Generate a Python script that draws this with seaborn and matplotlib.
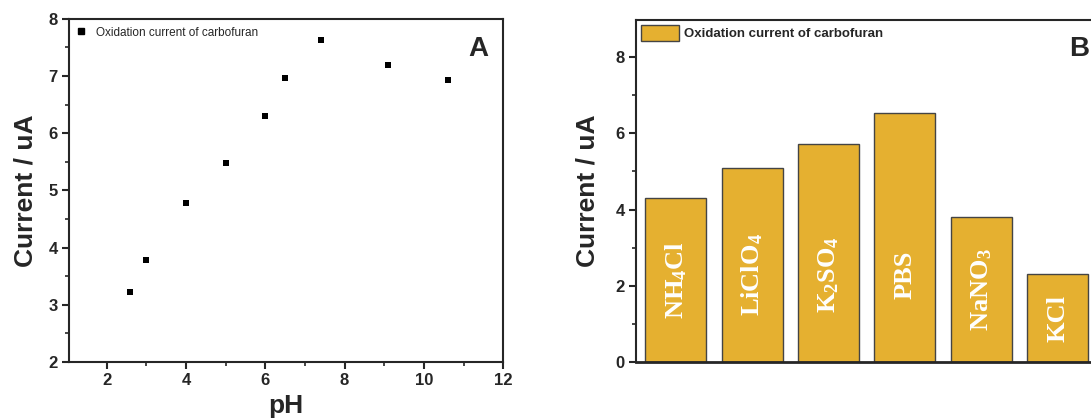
import matplotlib
matplotlib.use("Agg")
import matplotlib.pyplot as plt
from matplotlib.patches import Patch
from matplotlib.lines import Line2D
from matplotlib.ticker import MultipleLocator
import seaborn as sns
import pandas as pd

# pH study
ph_values = [2.6, 3.0, 4.0, 5.0, 6.0, 6.5, 7.4, 9.1, 10.6]
ph_currents = [3.22, 3.78, 4.78, 5.48, 6.31, 6.96, 7.63, 7.20, 6.94]

# supporting electrolyte study
electrolytes = ["NH4Cl", "LiClO4", "K2SO4", "PBS", "NaNO3", "KCl"]
electrolyte_labels = ["NH$_4$Cl", "LiClO$_4$", "K$_2$SO$_4$", "PBS", "NaNO$_3$", "KCl"]
electrolyte_currents = [4.30, 5.10, 5.72, 6.53, 3.80, 2.30]

series_name = "Oxidation current of carbofuran"
bar_color = "#E5B030"

sns.set_theme(style="ticks")
plt.rcParams["font.family"] = ["Liberation Sans", "DejaVu Sans"]
plt.rcParams["font.weight"] = "bold"
plt.rcParams["mathtext.fontset"] = "custom"
plt.rcParams["mathtext.rm"] = "Liberation Serif:bold"
plt.rcParams["mathtext.bf"] = "Liberation Serif:bold"
plt.rcParams["mathtext.default"] = "bf"
plt.rcParams["axes.linewidth"] = 1.5

fig = plt.figure(figsize=(10.91, 4.20), dpi=100)
ax_a = fig.add_axes([0.0632, 0.138, 0.398, 0.817])
ax_b = fig.add_axes([0.583, 0.138, 0.432, 0.814])

# Panel A: scatter of current versus pH
df_ph = pd.DataFrame({"pH": ph_values, "current": ph_currents})
sns.scatterplot(data=df_ph, x="pH", y="current", ax=ax_a, marker="s", s=24,
                color="black", edgecolor="black", linewidth=0)
ax_a.set_xlim(1.05, 12)
ax_a.set_ylim(2, 8)
ax_a.xaxis.set_major_locator(MultipleLocator(2))
ax_a.xaxis.set_minor_locator(MultipleLocator(1))
ax_a.yaxis.set_major_locator(MultipleLocator(1))
ax_a.yaxis.set_minor_locator(MultipleLocator(0.5))
ax_a.tick_params(which="major", direction="out", length=5, width=1.5,
                 labelsize=12, pad=3)
ax_a.tick_params(which="minor", direction="out", length=3, width=1.2)
for lbl in ax_a.get_xticklabels() + ax_a.get_yticklabels():
    lbl.set_fontweight("bold")
ax_a.set_xlabel("pH", fontsize=19, fontweight="bold", labelpad=4)
ax_a.set_ylabel("Current / uA", fontsize=19, fontweight="bold", labelpad=8)
for sp in ax_a.spines.values():
    sp.set_visible(True)
    sp.set_linewidth(1.5)
handle_a = Line2D([], [], marker="s", color="black", linestyle="none", markersize=5)
ax_a.legend([handle_a], [series_name], loc="upper left", frameon=False,
            prop={"size": 8.5, "weight": "normal"}, handletextpad=0.8,
            borderaxespad=0.45, borderpad=0.2, handlelength=0.8)
ax_a.text(0.965, 0.95, "A", transform=ax_a.transAxes, ha="right", va="top",
          fontsize=20, fontweight="bold")

# Panel B: bars for each supporting electrolyte
df_el = pd.DataFrame({"electrolyte": electrolytes, "current": electrolyte_currents})
sns.barplot(data=df_el, x="electrolyte", y="current", ax=ax_b, color=bar_color,
            saturation=1, width=0.8, edgecolor="#444444", linewidth=1.0)
ax_b.set_xlim(-0.52, 5.65)
ax_b.set_ylim(0, 8.97)
ax_b.yaxis.set_major_locator(MultipleLocator(2))
ax_b.yaxis.set_minor_locator(MultipleLocator(1))
ax_b.tick_params(axis="y", which="major", direction="out", length=5, width=1.5,
                 labelsize=12, pad=3)
ax_b.tick_params(axis="y", which="minor", direction="out", length=3, width=1.2)
ax_b.tick_params(axis="x", which="both", bottom=False, labelbottom=False)
for lbl in ax_b.get_yticklabels():
    lbl.set_fontweight("bold")
ax_b.set_xlabel("")
ax_b.set_ylabel("Current / uA", fontsize=19, fontweight="bold", labelpad=12)
for sp in ax_b.spines.values():
    sp.set_visible(True)
    sp.set_linewidth(1.5)
ax_b.spines["bottom"].set_linewidth(2.0)

for i, (label, value) in enumerate(zip(electrolyte_labels, electrolyte_currents)):
    ax_b.text(i, min(value * 0.5, 2.3), label, rotation=90, ha="center",
              va="center", color="white", fontsize=19,
              family="Liberation Serif", fontweight="bold")

handle_b = Patch(facecolor=bar_color, edgecolor="#444444", linewidth=1.0)
ax_b.legend([handle_b], [series_name], loc="upper left", frameon=False,
            prop={"size": 9.5, "weight": "bold"}, handletextpad=0.4,
            borderaxespad=0.15, borderpad=0.2, handlelength=2.9, handleheight=1.5)
fig.text(1089 / 1091, 1 - 36 / 420, "B", ha="right", va="top",
         fontsize=20, fontweight="bold")

fig.savefig("out.png", dpi=100)
